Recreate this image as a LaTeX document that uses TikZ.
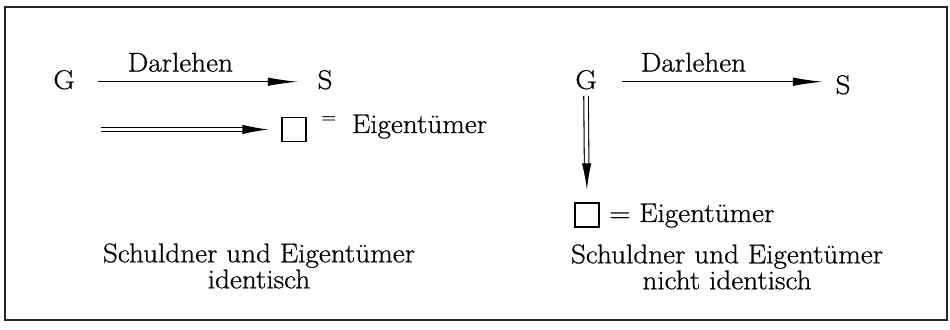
\documentclass[tikz,border=0pt]{standalone}
\usepackage{fontspec}
\setmainfont{Latin Modern Roman}[FakeBold=0.7,FakeStretch=1.08]
\usetikzlibrary{arrows.meta,positioning}
\tikzset{>=Latex,
  every node/.style={font=\fontsize{15.4}{14.8}\selectfont},
  party/.style={inner sep=0pt,anchor=base,text depth=.25em},
  arr/.style={-{Latex[length=.6cm,width=.17cm]},line width=.7pt},
  dblarr/.style={-{Latex[length=.52cm,width=.19cm]},double,double distance=2pt,line width=.6pt},
  ownerbox/.style={draw,line width=.7pt,minimum size=.48cm,inner sep=0pt},
  ownerlabel/.style={anchor=base west,inner sep=0pt},
  caption/.style={align=center,anchor=north,inner sep=0pt}}
\begin{document}
\begin{tikzpicture}[x=.02cm,y=-.02cm]
\useasboundingbox (0,0) rectangle (950,330);
\draw[line width=.85pt,black!85] (5,7) rectangle (947,320);
% Schuldner = Eigentuemer
\node[party] (G1) at (64,89) {G};
\node[party] (S1) at (325,89) {S};
\draw[arr,shorten <=13pt,shorten >=11pt] (G1.east) -- node[above=2pt,pos=.435] {Darlehen} (S1.west);
\node[ownerbox] (B1) at (294,129.5) {};
\coordinate (D1) at (101,129.5);
\draw[dblarr,shorten >=7.4pt] (D1) -- (B1.west);
\node[ownerlabel] (E1) at (321,133) {\raisebox{.38em}{\fontsize{10}{10}\selectfont =}\hspace{9pt}Eigentümer};
\node[caption] (C1) at (259,243) {Schuldner und Eigentümer\\identisch};
% Schuldner /= Eigentuemer
\node[party] (G2) at (586,89) {G};
\node[party] (S2) at (843,94) {S};
\draw[arr,shorten <=14.5pt,shorten >=7pt] (G2.east) -- node[above=2pt,pos=.405] {Darlehen} (G2.east -| S2.west);
\node[ownerbox] (B2) at (587,215) {};
\draw[dblarr,shorten <=1.2pt,shorten >=7.4pt] (G2.south) -- (B2.north);
\node[ownerlabel] (E2) at (609,222) {= Eigentümer};
\node[caption] (C2) at (727,244) {Schuldner und Eigentümer\\nicht identisch};
\end{tikzpicture}
\end{document}
